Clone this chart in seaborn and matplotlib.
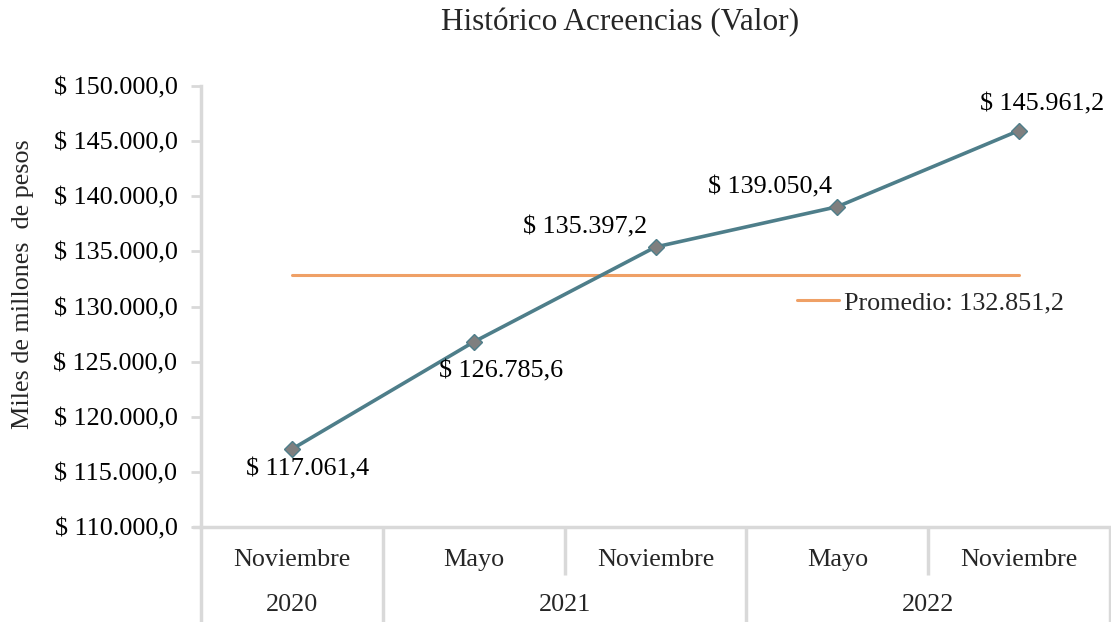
import numpy as np
import pandas as pd
import seaborn as sns
import matplotlib.pyplot as plt
from matplotlib.ticker import FuncFormatter

# Data
meses = ['Noviembre', 'Mayo', 'Noviembre', 'Mayo', 'Noviembre']
anios = ['2020', '2021', '2021', '2022', '2022']
valores = [117061.4, 126785.6, 135397.2, 139050.4, 145961.2]

promedio = np.mean(valores)


def fmt_es(v):
    s = f"{v:,.1f}"
    return s.replace(',', 'X').replace('.', ',').replace('X', '.')


data = pd.DataFrame({'pos': np.arange(len(valores)), 'valor': valores})

sns.set_style('white')
plt.rcParams['font.family'] = ['Liberation Serif', 'DejaVu Serif']

fig = plt.figure(figsize=(11.11, 6.22), dpi=100)
ax = fig.add_axes([201 / 1111, 1 - 527 / 622, 909 / 1111, 441 / 622])

line_color = '#4E7E8A'
avg_color = '#EFA066'
grid_color = '#D9D9D9'
fs = 18.8

# Average line
ax.plot([0, len(valores) - 1], [promedio, promedio], color=avg_color, lw=2.2,
        label=f'Promedio: {fmt_es(promedio)}', zorder=2)

# Main series
sns.lineplot(data=data, x='pos', y='valor', ax=ax, color=line_color, lw=2.6,
             marker='D', markersize=8, markerfacecolor='#7F7F7F',
             markeredgecolor=line_color, markeredgewidth=1, zorder=3)

# Data labels
offsets = [(16, -20), (27, -29), (-70, 20), (-67, 19), (23, 26)]
for i, v in enumerate(valores):
    ax.annotate(f'$ {fmt_es(v)}', (i, v), xytext=offsets[i], textcoords='offset pixels',
                ha='center', va='center', fontsize=fs, color='black')

ax.set_xlim(-0.5, len(valores) - 0.5)
ax.set_ylim(110000, 150000)
ax.set_yticks(np.arange(110000, 150001, 5000))
ax.yaxis.set_major_formatter(FuncFormatter(lambda v, p: f'$ {fmt_es(v)}'))
ax.tick_params(axis='y', left=True, length=7, width=2, color=grid_color,
               labelsize=fs, pad=10, labelcolor='black')
ax.set_xticks([])
ax.set_xlabel('')
ax.set_ylabel('Miles de millones  de pesos', fontsize=fs)
ax.yaxis.set_label_coords(-0.184, 0.55)

for side in ['top', 'right']:
    ax.spines[side].set_visible(False)
for side in ['left', 'bottom']:
    ax.spines[side].set_color(grid_color)
    ax.spines[side].set_linewidth(2.5)

# Multi-level category axis
row1 = -48 / 441
row2 = -95 / 441
trans = ax.get_xaxis_transform()
for i, m in enumerate(meses):
    ax.text(i, -33 / 441, m, transform=trans, ha='center', va='center', fontsize=fs)

# separators
for b in np.arange(-0.5, len(valores)):
    left = anios[int(b - 0.5)] if b > -0.5 else None
    right = anios[int(b + 0.5)] if b + 0.5 < len(valores) else None
    full = left != right
    ax.plot([b, b], [0, row2 if full else row1], transform=trans, color=grid_color,
            lw=2.5, clip_on=False, solid_capstyle='butt')

# year labels
years = pd.Series(anios)
for y in years.unique():
    idx = np.where(years == y)[0]
    ax.text(idx.mean(), -78 / 441, y, transform=trans, ha='center', va='center', fontsize=fs)

# extend bottom axis line left (tick stub)
ax.plot([-0.5 - 8 / 182, -0.5], [0, 0], transform=trans, color=grid_color, lw=2.5,
        clip_on=False)

ax.legend(loc='center left', bbox_to_anchor=(0.656, 0.508), frameon=False,
          fontsize=fs, handlelength=1.6, handletextpad=0.2, borderpad=0,
          borderaxespad=0)

fig.text(620 / 1111, 1 - 23 / 622, 'Histórico Acreencias (Valor)', ha='center',
         va='center', fontsize=22.5)

fig.savefig('out.png', dpi=100)
